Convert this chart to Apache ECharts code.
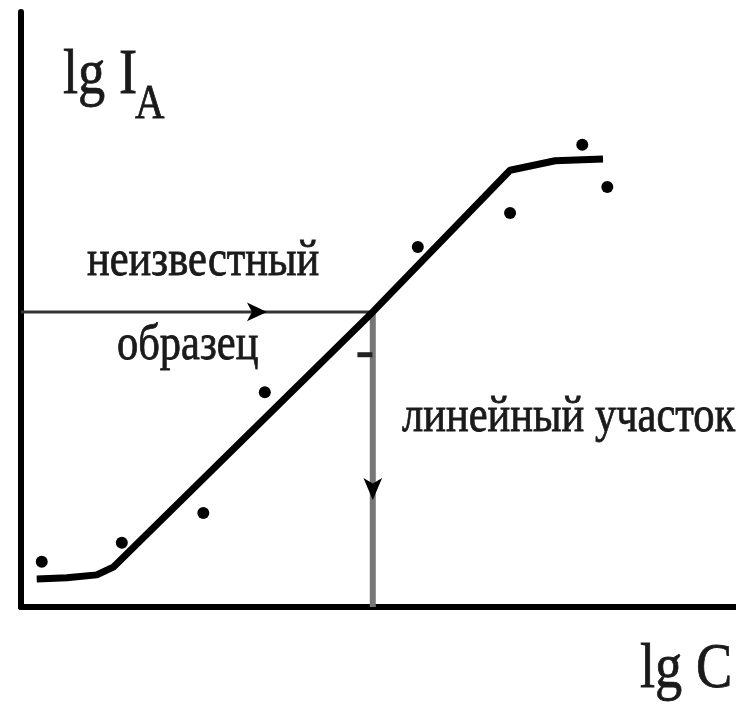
<!DOCTYPE html>
<html>
<head>
<meta charset="utf-8">
<title>lg I - lg C</title>
<script src="https://cdn.jsdelivr.net/npm/echarts@6/dist/echarts.min.js"></script>
<style>
  html, body { margin: 0; height: 100%; background: #fff; }
  #main { width: 736px; height: 707px; }
</style>
</head>
<body>
<div id="main"></div>
<script>
// градуировочная кривая (условные единицы, оси 0..10)
var curveX = [0.22, 0.64, 1.06, 1.29, 4.92, 6.84, 7.47, 8.14];
var curveY = [0.47, 0.49, 0.54, 0.67, 4.96, 7.34, 7.50, 7.53];

// экспериментальные точки
var pointX = [0.29, 1.41, 2.55, 3.41, 5.55, 6.84, 7.85, 8.20];
var pointY = [0.76, 1.08, 1.58, 3.61, 6.05, 6.62, 7.77, 7.06];
var dashPoint = [4.81, 4.24];

// неизвестный образец
var sampleX = 4.92;
var sampleY = 4.96;
var arrowH = [3.44, 4.96];
var arrowV = [4.92, 1.80];

var labels = {
  yName: 'lg I',
  ySub: 'A',
  xName: 'lg C',
  unknown1: 'неизвестный',
  unknown2: 'образец',
  linear: 'линейный участок'
};

function zip(xs, ys) {
  var out = [];
  for (var i = 0; i < xs.length; i++) out.push([xs[i], ys[i]]);
  return out;
}

function txt(x, y, s, size) {
  return {
    type: 'text', x: x, y: y, scaleX: 0.85,
    style: {
      text: s, fontFamily: 'Liberation Serif', fontSize: size,
      fill: '#1a1a1a', stroke: '#1a1a1a', lineWidth: 0.8,
      verticalAlign: 'middle', align: 'left'
    }
  };
}

var myChart = echarts.init(document.getElementById('main'));
var option = {
  animation: false,
  grid: { left: 21, right: 0, top: 12, bottom: 100 },
  xAxis: {
    type: 'value', min: 0, max: 10,
    axisLine: { show: true, onZero: false, lineStyle: { color: '#000', width: 6 } },
    axisTick: { show: false }, axisLabel: { show: false }, splitLine: { show: false }
  },
  yAxis: {
    type: 'value', min: 0, max: 10,
    axisLine: { show: true, onZero: false, lineStyle: { color: '#000', width: 6 } },
    axisTick: { show: false }, axisLabel: { show: false }, splitLine: { show: false }
  },
  graphic: [
    txt(63, 76, labels.yName, 64),
    txt(135, 105, labels.ySub, 48),
    txt(640, 670, labels.xName, 64),
    txt(87, 262, labels.unknown1, 50),
    txt(117, 346, labels.unknown2, 50),
    txt(402, 418, labels.linear, 50)
  ],
  series: [
    {
      type: 'line', data: [[0, sampleY], [sampleX, sampleY]],
      symbol: 'none', lineStyle: { color: '#333', width: 3 }, z: 1
    },
    {
      type: 'line', data: [[sampleX, sampleY], [sampleX, 0]],
      symbol: 'none', lineStyle: { color: '#777', width: 6 }, z: 1
    },
    {
      type: 'line', data: zip(curveX, curveY),
      symbol: 'none', lineStyle: { color: '#000', width: 7 }, z: 3
    },
    {
      type: 'scatter', data: zip(pointX, pointY),
      symbol: 'circle', symbolSize: 12, itemStyle: { color: '#000', opacity: 1 }, z: 4
    },
    {
      type: 'scatter', data: [dashPoint],
      symbol: 'rect', symbolSize: [15, 5], itemStyle: { color: '#222', opacity: 1 }, z: 4
    },
    {
      type: 'scatter', data: [arrowH],
      symbol: 'arrow', symbolSize: [14, 20], symbolRotate: -90, itemStyle: { color: '#000', opacity: 1 }, z: 4
    },
    {
      type: 'scatter', data: [arrowV],
      symbol: 'arrow', symbolSize: [14, 22], symbolRotate: 180, itemStyle: { color: '#000', opacity: 1 }, z: 4
    }
  ]
};
myChart.setOption(option);
</script>
</body>
</html>
